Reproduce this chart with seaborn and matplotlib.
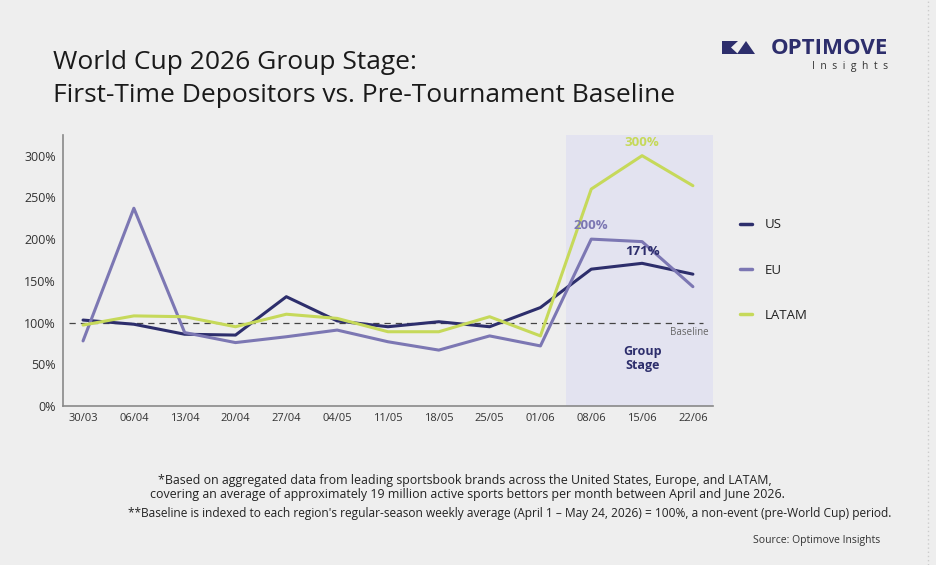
import numpy as np
import pandas as pd
import seaborn as sns
import matplotlib.pyplot as plt
from matplotlib.patches import Polygon
from matplotlib.lines import Line2D

# data (index vs pre-tournament baseline, %)
weeks = ['30/03', '06/04', '13/04', '20/04', '27/04', '04/05', '11/05',
         '18/05', '25/05', '01/06', '08/06', '15/06', '22/06']
us = [103, 98, 86, 85, 131, 102, 95, 101, 95, 118, 164, 171, 158]
eu = [78, 237, 88, 76, 83, 91, 77, 67, 84, 72, 200, 197, 143]
latam = [97, 108, 107, 95, 110, 105, 89, 89, 107, 84, 260, 300, 264]
regions = ['US', 'EU', 'LATAM']
colors = ['#2d2e6c', '#7c77b3', '#c6d95a']
yticks = [0, 50, 100, 150, 200, 250, 300]

df = pd.DataFrame({'week': weeks * 3,
                   'x': list(range(len(weeks))) * 3,
                   'value': us + eu + latam,
                   'region': [r for r in regions for _ in weeks]})

sns.set_theme(style='white')
bg = '#eeeeee'
plt.rcParams['font.family'] = ['Open Sans', 'DejaVu Sans']
plt.rcParams['figure.facecolor'] = bg

fig = plt.figure(figsize=(9.36, 5.65), dpi=100)
ax = fig.add_axes([0.067, 0.2814, 0.695, 0.48])
ax.set_facecolor(bg)

# group stage shading
ax.axvspan(9.5, 12.4, color='#e3e3f0', zorder=0, lw=0)

sns.lineplot(data=df, x='x', y='value', hue='region', palette=colors,
             hue_order=regions, linewidth=2.2, ax=ax, legend=False, zorder=3)

ax.axhline(100, xmin=0.01, xmax=0.985, color='#444444', lw=0.9,
           dashes=(5, 4), zorder=2)
ax.text(12.3, 95, 'Baseline', fontsize=7, color='#666666', ha='right', va='top')
ax.text(11, 57, 'Group\nStage', fontsize=9, color='#2d2e6c', ha='center',
        va='center', fontweight='bold', linespacing=1.1)

# peak labels
ax.text(11, latam[11] + 8, f'{latam[11]}%', color=colors[2], fontsize=9.5,
        fontweight='bold', ha='center', va='bottom')
ax.text(10, eu[10] + 8, f'{eu[10]}%', color=colors[1], fontsize=9.5,
        fontweight='bold', ha='center', va='bottom')
ax.text(11, us[11] + 6, f'{us[11]}%', color=colors[0], fontsize=9.5,
        fontweight='bold', ha='center', va='bottom')

ax.set_xlim(-0.4, 12.4)
ax.set_ylim(0, 325)
ax.set_xticks(range(len(weeks)))
ax.set_xticklabels(weeks, fontsize=8, color='#333333')
ax.set_yticks(yticks)
ax.set_yticklabels([f'{v}%' for v in yticks], fontsize=9, color='#333333')
ax.tick_params(length=0, pad=5)
ax.set_xlabel('')
ax.set_ylabel('')
for s in ['top', 'right']:
    ax.spines[s].set_visible(False)
for s in ['left', 'bottom']:
    ax.spines[s].set_color('#888888')
    ax.spines[s].set_linewidth(1.2)

handles = [Line2D([0], [0], color=c, lw=2.5) for c in colors]
leg = fig.legend(handles, regions, loc='center left',
                 bbox_to_anchor=(0.778, 0.522), frameon=False,
                 handlelength=0.9, handletextpad=1.0, labelspacing=2.45,
                 fontsize=9.5)
for t in leg.get_texts():
    t.set_color('#222222')

# title
fig.text(0.057, 0.889, 'World Cup 2026 Group Stage:', fontsize=19,
         color='#1a1a1a', va='center')
fig.text(0.057, 0.831, 'First-Time Depositors vs. Pre-Tournament Baseline',
         fontsize=19, color='#1a1a1a', va='center')

# logo
navy = '#2d2e6c'
fig.patches.append(Polygon([[722, 511], [722, 524], [738, 524], [731, 517.5],
                            [738, 511]], closed=True, transform=None,
                           facecolor=navy, lw=0))
fig.patches.append(Polygon([[737, 511], [746, 524], [755, 511]],
                           closed=True, transform=None, facecolor=navy, lw=0))
fig.text(0.949, 0.915, 'OPTIMOVE', fontsize=16, fontweight='bold', color=navy,
         ha='right', va='center')
fig.text(0.949, 0.882, 'I  n  s  i  g  h  t  s', fontsize=7.5, color='#333333',
         ha='right', va='center')

# footnotes
fig.text(0.497, 0.149, '*Based on aggregated data from leading sportsbook brands across the United States, Europe, and LATAM,',
         fontsize=8.9, color='#222222', ha='center', va='center')
fig.text(0.499, 0.124, 'covering an average of approximately 19 million active sports bettors per month between April and June 2026.',
         fontsize=8.9, color='#222222', ha='center', va='center')
fig.text(0.545, 0.092, "**Baseline is indexed to each region's regular-season weekly average (April 1 \u2013 May 24, 2026) = 100%, a non-event (pre-World Cup) period.",
         fontsize=8.6, color='#222222', ha='center', va='center')
fig.text(0.940, 0.044, 'Source: Optimove Insights', fontsize=7.5,
         color='#333333', ha='right', va='center')

# page border on the right
fig.add_artist(Line2D([0.991, 0.991], [0, 1], color='#cccccc', lw=1,
                      linestyle=(0, (1, 2))))

fig.savefig('out.png', dpi=100, facecolor=bg)
